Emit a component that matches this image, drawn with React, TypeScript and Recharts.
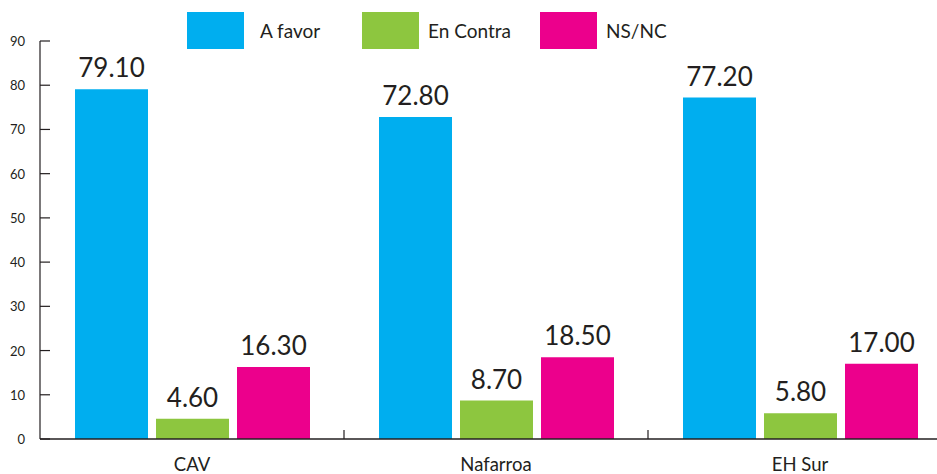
import React from "react"
import { BarChart, Bar, XAxis, YAxis, LabelList } from "recharts"

const categories = ["CAV", "Nafarroa", "EH Sur"]
const aFavor = [79.1, 72.8, 77.2]
const enContra = [4.6, 8.7, 5.8]
const nsnc = [16.3, 18.5, 17.0]
const yTicks = [0, 10, 20, 30, 40, 50, 60, 70, 80, 90]

const series = [
  { key: "aFavor", name: "A favor", color: "#00AEEF" },
  { key: "enContra", name: "En Contra", color: "#8DC63F" },
  { key: "nsnc", name: "NS/NC", color: "#EC008C" },
]

const data = categories.map((c, i) => ({
  name: c,
  aFavor: aFavor[i],
  enContra: enContra[i],
  nsnc: nsnc[i],
}))

const FONT = "Lato, 'Open Sans', sans-serif"
const INK = "#231F20"

function YTick(props: any) {
  const { x, y, payload } = props
  return (
    <g>
      <line x1={x} x2={x + 10} y1={y} y2={y} stroke={INK} strokeWidth={1.2} />
      <text x={x - 15} y={y + 5} textAnchor="end" fontSize={13} fill={INK} fontFamily={FONT}>
        {payload.value}
      </text>
    </g>
  )
}

function XTick(props: any) {
  const { x, y, payload } = props
  const half = payload.offset ?? 151.75
  return (
    <g>
      <line x1={x + half} x2={x + half} y1={y - 9} y2={y} stroke={INK} strokeWidth={1.2} />
      <text x={x} y={y + 32} textAnchor="middle" fontSize={18.5} fill={INK} fontFamily={FONT}>
        {payload.value}
      </text>
    </g>
  )
}

const legendPos = [187, 362, 540]

export default function App() {
  return (
    <div style={{ position: "absolute", left: 0, top: 0, width: 937, height: 474, overflow: "hidden", background: "#fff" }}>
      <BarChart
        width={952}
        height={474}
        data={data}
        margin={{ top: 41, right: 0, bottom: 0, left: 0 }}
        barCategoryGap={34}
        barGap={8}
      >
        <YAxis
          width={40}
          domain={[0, 90]}
          ticks={yTicks}
          interval={0}
          tickLine={false}
          tickSize={0}
          tickMargin={0}
          axisLine={{ stroke: INK, strokeWidth: 1.2 }}
          tick={<YTick />}
        />
        <XAxis
          dataKey="name"
          height={35}
          tickLine={false}
          tickSize={0}
          tickMargin={0}
          axisLine={{ stroke: INK, strokeWidth: 1.4 }}
          tick={<XTick />}
        />
        {series.map((s) => (
          <Bar key={s.key} dataKey={s.key} name={s.name} fill={s.color} barSize={73} isAnimationActive={false}>
            <LabelList
              dataKey={s.key}
              position="top"
              offset={12}
              formatter={(v: any) => Number(v).toFixed(2)}
              style={{ fontSize: 26, fill: INK, fontFamily: FONT }}
            />
          </Bar>
        ))}
      </BarChart>
      {series.map((s, i) => (
        <div key={s.key} style={{ position: "absolute", left: legendPos[i], top: 12, display: "flex", alignItems: "center" }}>
          <div style={{ width: 57, height: 37, background: s.color }} />
          <span style={{ marginLeft: i === 0 ? 16 : 9, fontSize: 19, color: INK, fontFamily: FONT }}>{s.name}</span>
        </div>
      ))}
    </div>
  )
}
